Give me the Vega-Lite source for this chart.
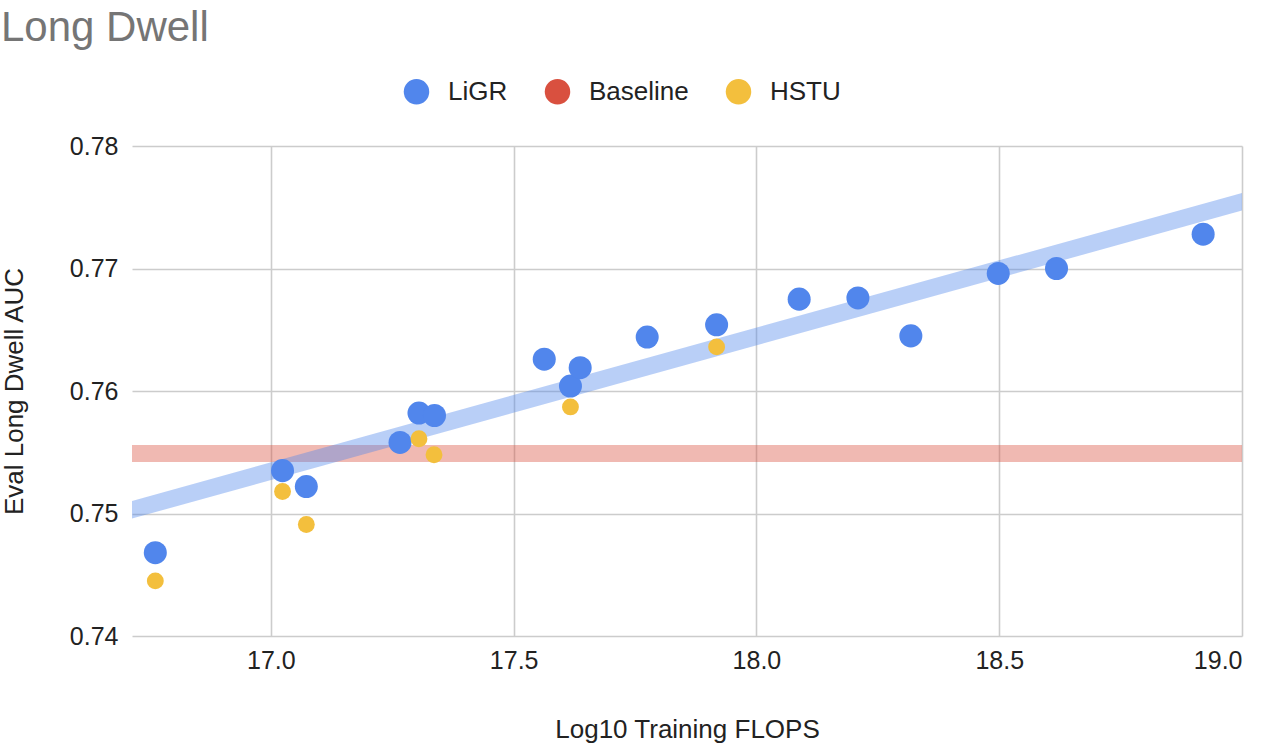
{
  "$schema": "https://vega.github.io/schema/vega-lite/v6.json",
  "width": 1110,
  "height": 490,
  "autosize": {"type": "none"},
  "padding": {"left": 132, "top": 146, "right": 30, "bottom": 108},
  "background": "white",
  "title": {
    "text": "Long Dwell",
    "anchor": "start",
    "frame": "group",
    "dx": -131,
    "offset": 28,
    "fontSize": 42,
    "fontWeight": "normal",
    "font": "Liberation Sans",
    "color": "#757575"
  },
  "config": {
    "view": {"stroke": null},
    "axis": {
      "domain": false,
      "ticks": false,
      "gridColor": "#cccccc",
      "gridWidth": 1.6,
      "labelFont": "Liberation Sans",
      "labelFontSize": 25,
      "labelColor": "#222222",
      "titleFont": "Liberation Sans",
      "titleFontSize": 26,
      "titleFontWeight": "normal",
      "titleColor": "#222222"
    },
    "legend": {
      "labelFont": "Liberation Sans",
      "labelFontSize": 26,
      "labelColor": "#222222"
    }
  },
  "datasets": {
    "points": [
      {"series": "LiGR", "flops": 16.762, "auc": 0.7468},
      {"series": "LiGR", "flops": 17.024, "auc": 0.7535},
      {"series": "LiGR", "flops": 17.073, "auc": 0.7522},
      {"series": "LiGR", "flops": 17.266, "auc": 0.7558},
      {"series": "LiGR", "flops": 17.305, "auc": 0.7582},
      {"series": "LiGR", "flops": 17.337, "auc": 0.758},
      {"series": "LiGR", "flops": 17.563, "auc": 0.7626},
      {"series": "LiGR", "flops": 17.617, "auc": 0.7604},
      {"series": "LiGR", "flops": 17.637, "auc": 0.7619},
      {"series": "LiGR", "flops": 17.775, "auc": 0.7644},
      {"series": "LiGR", "flops": 17.918, "auc": 0.7654},
      {"series": "LiGR", "flops": 18.088, "auc": 0.7675},
      {"series": "LiGR", "flops": 18.209, "auc": 0.7676},
      {"series": "LiGR", "flops": 18.318, "auc": 0.7645},
      {"series": "LiGR", "flops": 18.498, "auc": 0.7696},
      {"series": "LiGR", "flops": 18.618, "auc": 0.77},
      {"series": "LiGR", "flops": 18.92, "auc": 0.7728},
      {"series": "HSTU", "flops": 16.762, "auc": 0.7445},
      {"series": "HSTU", "flops": 17.024, "auc": 0.7518},
      {"series": "HSTU", "flops": 17.073, "auc": 0.7491},
      {"series": "HSTU", "flops": 17.305, "auc": 0.7561},
      {"series": "HSTU", "flops": 17.336, "auc": 0.7548},
      {"series": "HSTU", "flops": 17.617, "auc": 0.7587},
      {"series": "HSTU", "flops": 17.918, "auc": 0.7636}
    ],
    "trend": [
      {"flops": 16.6, "auc": 0.74905},
      {"flops": 19.1, "auc": 0.77655}
    ],
    "baseline": [
      {"flops": 16.6, "auc": 0.7549},
      {"flops": 19.1, "auc": 0.7549}
    ]
  },
  "encoding": {
    "x": {
      "field": "flops",
      "type": "quantitative",
      "title": "Log10 Training FLOPS",
      "scale": {"domain": [16.714, 19.0], "nice": false, "zero": false},
      "axis": {
        "values": [17, 17.5, 18, 18.5, 19],
        "format": ".1f",
        "labelPadding": 12,
        "titlePadding": 43
      }
    },
    "y": {
      "field": "auc",
      "type": "quantitative",
      "title": "Eval Long Dwell AUC",
      "scale": {"domain": [0.74, 0.78], "nice": false, "zero": false},
      "axis": {
        "values": [0.74, 0.75, 0.76, 0.77, 0.78],
        "format": ".2f",
        "labelPadding": 14,
        "titlePadding": 42
      }
    }
  },
  "layer": [
    {
      "data": {"name": "baseline"},
      "mark": {"type": "line", "clip": true, "strokeWidth": 17, "strokeCap": "butt", "color": "#d9503f", "opacity": 0.4},
      "encoding": {}
    },
    {
      "data": {"name": "trend"},
      "mark": {"type": "line", "clip": true, "strokeWidth": 17, "strokeCap": "butt", "color": "#4f86ec", "opacity": 0.4},
      "encoding": {}
    },
    {
      "data": {"name": "points"},
      "mark": {"type": "circle", "opacity": 1},
      "encoding": {
        "color": {
          "field": "series",
          "type": "nominal",
          "scale": {
            "domain": ["LiGR", "Baseline", "HSTU"],
            "range": ["#5186ec", "#d9503f", "#f3bf3d"]
          },
          "legend": {
            "title": null,
            "orient": "none",
            "direction": "horizontal",
            "legendX": 271,
            "legendY": -68,
            "symbolType": "circle",
            "symbolSize": 650,
            "symbolOpacity": 1,
            "labelOffset": 18,
            "columnPadding": 36,
            "padding": 0
          }
        },
        "size": {
          "condition": {"test": "datum.series === 'HSTU'", "value": 285},
          "value": 530
        }
      }
    }
  ]
}
